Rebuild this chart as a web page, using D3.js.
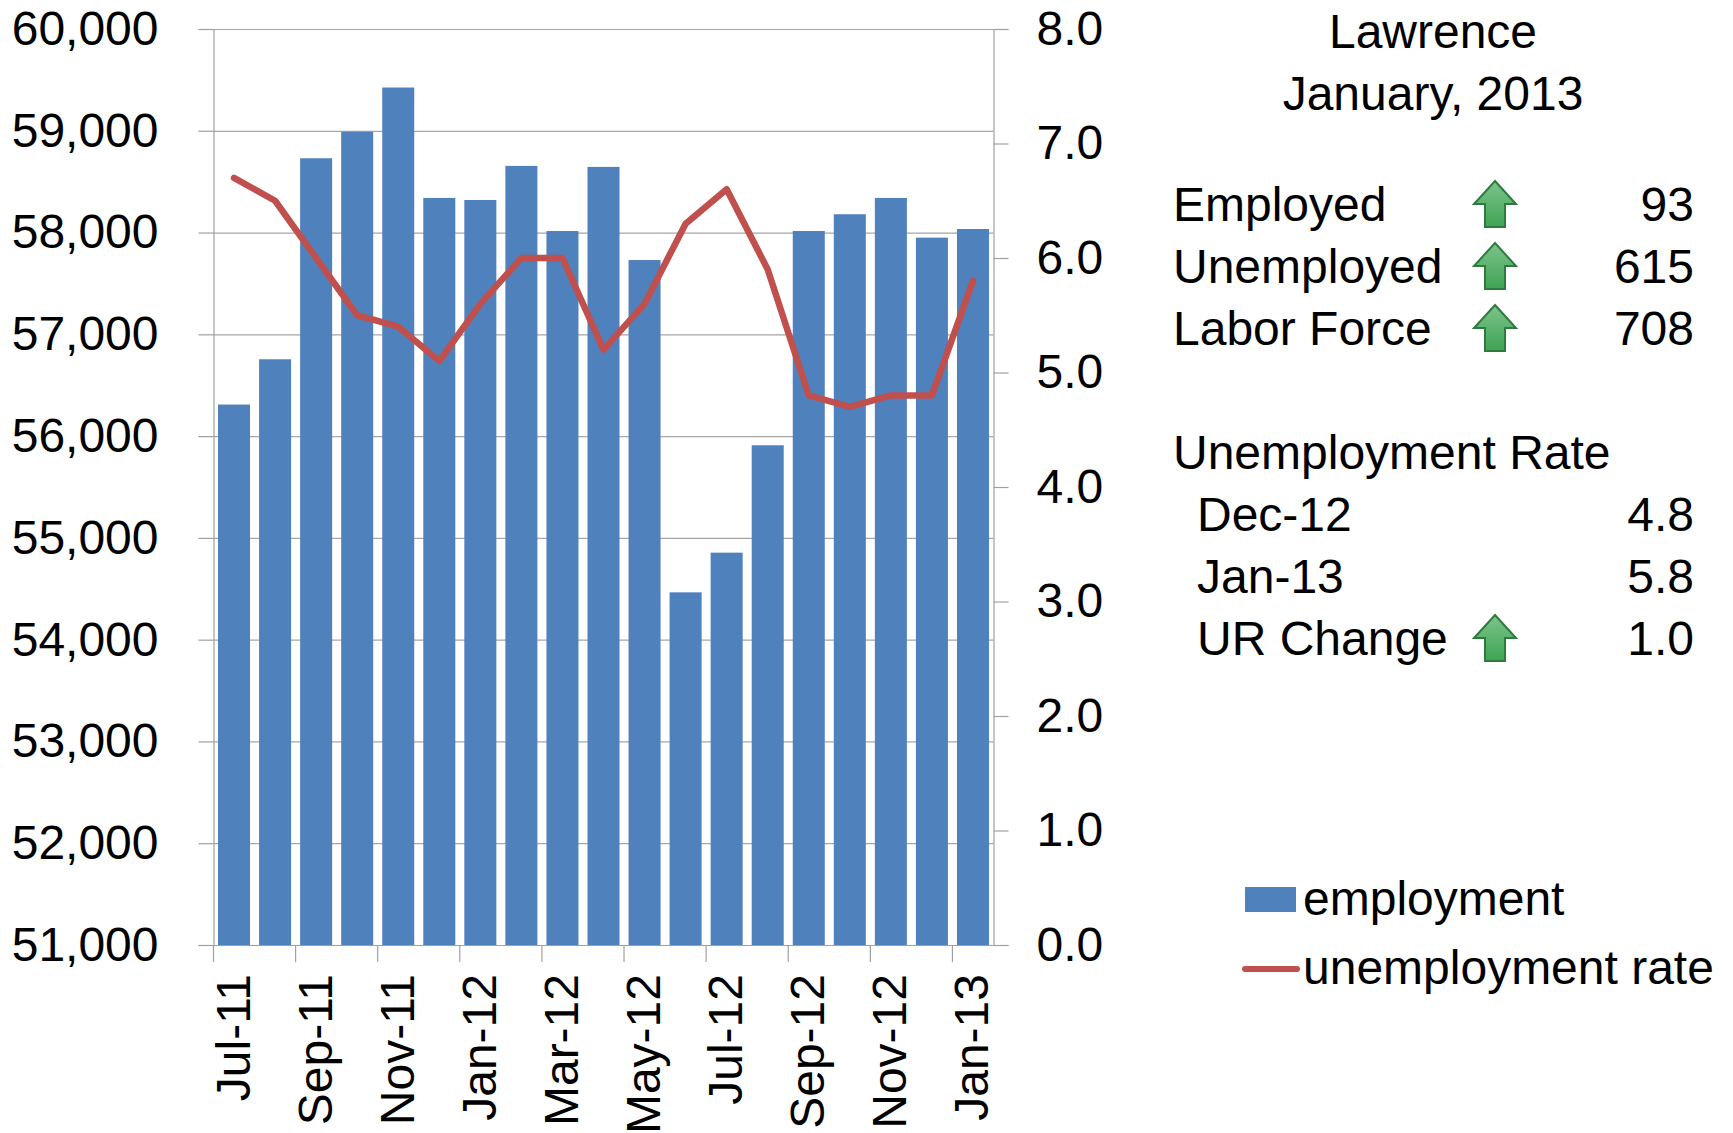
<!DOCTYPE html>
<html lang="en">
<head>
<meta charset="UTF-8">
<title>Lawrence employment</title>
<style>
  html, body { margin: 0; padding: 0; background: #fff; }
  svg { display: block; }
  text { font-family: "Liberation Sans", Arial, sans-serif; fill: #000; }
</style>
</head>
<body>
<div class="canvas"></div>
<script src="https://cdnjs.cloudflare.com/ajax/libs/d3/7.8.5/d3.min.js"></script>
<script>
const months = ['Jul-11','Aug-11','Sep-11','Oct-11','Nov-11','Dec-11','Jan-12','Feb-12','Mar-12','Apr-12',
  'May-12','Jun-12','Jul-12','Aug-12','Sep-12','Oct-12','Nov-12','Dec-12','Jan-13'];
const employment = [56310,56755,58730,58990,59425,58340,58320,58655,58015,58645,
  57730,54465,54855,55910,58015,58180,58340,57950,58035];
const unemploymentRate = [6.7,6.5,6.0,5.5,5.4,5.1,5.6,6.0,6.0,5.2,5.6,6.3,6.6,5.9,4.8,4.7,4.8,4.8,5.8];

const titleLines = ['Lawrence', 'January, 2013'];
const changeLabels = ['Employed', 'Unemployed', 'Labor Force'];
const changeValues = ['93', '615', '708'];
const rateLabels = ['Dec-12', 'Jan-13', 'UR Change'];
const rateValues = ['4.8', '5.8', '1.0'];

const width = 1733, height = 1133;
const fontSize = 48;
const margin = {top: 29, right: 739.5, bottom: 188, left: 213.5};
const graphWidth = width - margin.left - margin.right;
const graphHeight = height - margin.top - margin.bottom;

const svg = d3.select('.canvas')
  .append('svg')
    .attr('width', width)
    .attr('height', height);

// green gradient for the little up arrows
const grad = svg.append('defs').append('linearGradient')
  .attr('id', 'arrowFill')
  .attr('x1', 0).attr('y1', 0).attr('x2', 0).attr('y2', 1);
grad.append('stop').attr('offset', '0%').attr('stop-color', '#7cc48a');
grad.append('stop').attr('offset', '100%').attr('stop-color', '#3fa354');

const graph = svg.append('g')
  .attr('transform', `translate(${margin.left}, ${margin.top})`);

const x = d3.scaleBand()
  .domain(months)
  .range([0, graphWidth])
  .paddingInner(0.22)
  .paddingOuter(0.11);

const yLeft = d3.scaleLinear().domain([51000, 60000]).range([graphHeight, 0]);
const yRight = d3.scaleLinear().domain([0, 8]).range([graphHeight, 0]);

// gridlines first, bars sit on top of them
graph.append('g')
  .call(d3.axisLeft(yLeft).ticks(9).tickSize(-graphWidth).tickFormat(''))
  .call(g => g.select('.domain').remove())
  .selectAll('line').attr('stroke', '#a6a6a6').attr('stroke-width', 1.2);

graph.selectAll('rect.bar')
  .data(employment)
  .enter()
  .append('rect')
    .attr('class', 'bar')
    .attr('x', (d, i) => x(months[i]))
    .attr('y', d => yLeft(d))
    .attr('width', x.bandwidth())
    .attr('height', d => graphHeight - yLeft(d))
    .attr('fill', '#4f81bd');

const styleAxis = g => {
  g.selectAll('.domain, line').attr('stroke', '#a0a0a0').attr('stroke-width', 1.2);
  g.selectAll('text').style('font-size', fontSize + 'px');
};

// axes
graph.append('g')
  .call(d3.axisLeft(yLeft).ticks(9).tickSize(15).tickSizeOuter(15).tickPadding(40).tickFormat(d3.format(',')))
  .call(styleAxis);

graph.append('g')
  .attr('transform', `translate(${graphWidth}, 0)`)
  .call(d3.axisRight(yRight).ticks(8).tickSize(15).tickSizeOuter(15).tickPadding(28).tickFormat(d3.format('.1f')))
  .call(styleAxis);

graph.append('g')
  .attr('transform', `translate(0, ${graphHeight})`)
  .call(d3.axisBottom(x)
    .tickValues(months.filter((d, i) => i % 2 === 0))
    .tickSize(17)
    .tickSizeOuter(0))
  .call(styleAxis)
  .call(g => {
    // excel style: tick marks between the categories, labels in the middle
    g.selectAll('.tick line')
      .attr('x1', -x.step() / 2)
      .attr('x2', -x.step() / 2);
    g.selectAll('.tick text')
      .attr('text-anchor', 'end')
      .attr('dy', null)
      .attr('y', null)
      .attr('dominant-baseline', 'central')
      .attr('transform', 'translate(-1, 29) rotate(-90)');
  });

const line = d3.line()
  .x((d, i) => x(months[i]) + x.bandwidth() / 2)
  .y(d => yRight(d));

graph.append('path')
  .datum(unemploymentRate)
  .attr('d', line)
  .attr('fill', 'none')
  .attr('stroke', '#c0504d')
  .attr('stroke-width', 6.5)
  .attr('stroke-linecap', 'round')
  .attr('stroke-linejoin', 'round');

// text panel on the right
const panel = svg.append('g').style('font-size', fontSize + 'px');
const panelLeft = 1173, panelIndent = 1197, panelRight = 1694, arrowX = 1495;

panel.selectAll('text.title')
  .data(titleLines)
  .enter()
  .append('text')
    .attr('class', 'title')
    .attr('x', 1433)
    .attr('y', (d, i) => 48 + i * 62)
    .attr('text-anchor', 'middle')
    .text(d => d);

const addRow = (label, value, rowY, labelX, hasArrow) => {
  panel.append('text').attr('x', labelX).attr('y', rowY).text(label);
  if (value) panel.append('text').attr('x', panelRight).attr('y', rowY).attr('text-anchor', 'end').text(value);
  if (hasArrow) {
    panel.append('path')
      .attr('transform', `translate(${arrowX}, ${rowY - 40})`)
      .attr('d', 'M0,0 L21,23 L10,23 L10,46 L-10,46 L-10,23 L-21,23 Z')
      .attr('fill', 'url(#arrowFill)')
      .attr('stroke', '#2f7a3e')
      .attr('stroke-width', 2);
  }
};

changeLabels.forEach((d, i) => addRow(d, changeValues[i], 221 + i * 62, panelLeft, true));
addRow('Unemployment Rate', null, 469, panelLeft, false);
rateLabels.forEach((d, i) => addRow(d, rateValues[i], 531 + i * 62, panelIndent, d === 'UR Change'));

// legend
const legend = svg.append('g').style('font-size', fontSize + 'px');
legend.append('rect')
  .attr('x', 1245).attr('y', 887).attr('width', 51).attr('height', 25)
  .attr('fill', '#4f81bd');
legend.append('text').attr('x', 1303).attr('y', 915).text('employment');
legend.append('line')
  .attr('x1', 1245).attr('x2', 1297).attr('y1', 969).attr('y2', 969)
  .attr('stroke', '#c0504d').attr('stroke-width', 6).attr('stroke-linecap', 'round');
legend.append('text').attr('x', 1303).attr('y', 984).text('unemployment rate');
</script>
</body>
</html>
